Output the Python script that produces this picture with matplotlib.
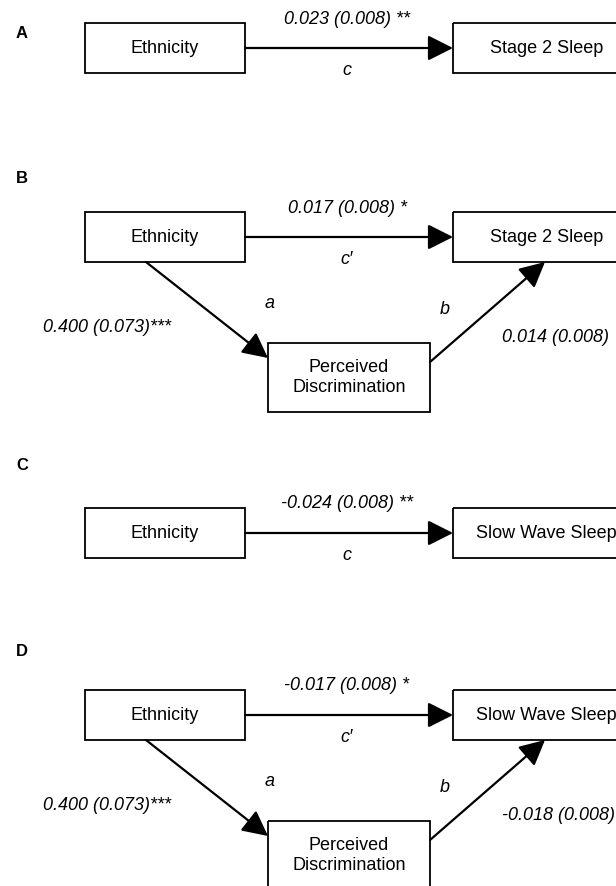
import matplotlib.pyplot as plt
from matplotlib.patches import Rectangle

plt.rcParams['font.family'] = ['Liberation Sans', 'DejaVu Sans']

# panel data
panels = ['A', 'B', 'C', 'D']
outcomes = ['Stage 2 Sleep', 'Stage 2 Sleep', 'Slow Wave Sleep', 'Slow Wave Sleep']
direct = ['0.023 (0.008) **', '0.017 (0.008) *', '-0.024 (0.008) **', '-0.017 (0.008) *']
direct_name = ['c', "c\u2032", 'c', "c\u2032"]
mediated = [False, True, False, True]
path_a = ['', '0.400 (0.073)***', '', '0.400 (0.073)***']
path_b = ['', '0.014 (0.008)', '', '-0.018 (0.008)']
box_top = [23, 212, 508, 690]
letter_y = [33, 178, 465, 652]

fig = plt.figure(figsize=(6.16, 8.86), dpi=100)
ax = fig.add_axes([0, 0, 1, 1])
ax.set_xlim(0, 616)
ax.set_ylim(886, 0)
ax.axis('off')

fs = 13
box_lw = 1.3
arr = dict(arrowstyle='-|>,head_length=1.55,head_width=0.78', mutation_scale=10,
           lw=1.6, color='black', shrinkA=0, shrinkB=0)


def box(x0, y0, x1, y1, text):
    ax.add_patch(Rectangle((x0, y0), x1 - x0, y1 - y0, fill=False, lw=box_lw, ec='black'))
    ax.text((x0 + x1) / 2, (y0 + y1) / 2, text, ha='center', va='center', fontsize=fs,
            linespacing=1.25)


def arrow(x0, y0, x1, y1):
    ax.annotate('', xy=(x1, y1), xytext=(x0, y0), arrowprops=arr)


for i, p in enumerate(panels):
    t = box_top[i]
    b = t + 50
    mid = (t + b) / 2
    ax.text(22, letter_y[i], p, fontsize=12, fontweight='bold', ha='center', va='center')
    box(85, t, 245, b, 'Ethnicity')
    box(453, t, 640, b, outcomes[i])
    arrow(245, mid, 453, mid)
    ax.text(347, t - 4, direct[i], ha='center', va='center', fontsize=fs, style='italic')
    ax.text(347, mid + 22, direct_name[i], ha='center', va='center', fontsize=fs, style='italic')
    if mediated[i]:
        box(268, t + 131, 430, t + 200, 'Perceived\nDiscrimination')
        arrow(146, b, 268, t + 146)
        arrow(430, t + 150, 545, b)
        ax.text(270, t + 91, 'a', ha='center', va='center', fontsize=fs, style='italic')
        ax.text(445, t + 98, 'b', ha='center', va='center', fontsize=fs, style='italic')
        ax.text(107, t + 115, path_a[i], ha='center', va='center', fontsize=fs, style='italic')
        ax.text(502, t + 126, path_b[i], ha='left', va='center', fontsize=fs, style='italic')

fig.savefig('out.png', dpi=100)
